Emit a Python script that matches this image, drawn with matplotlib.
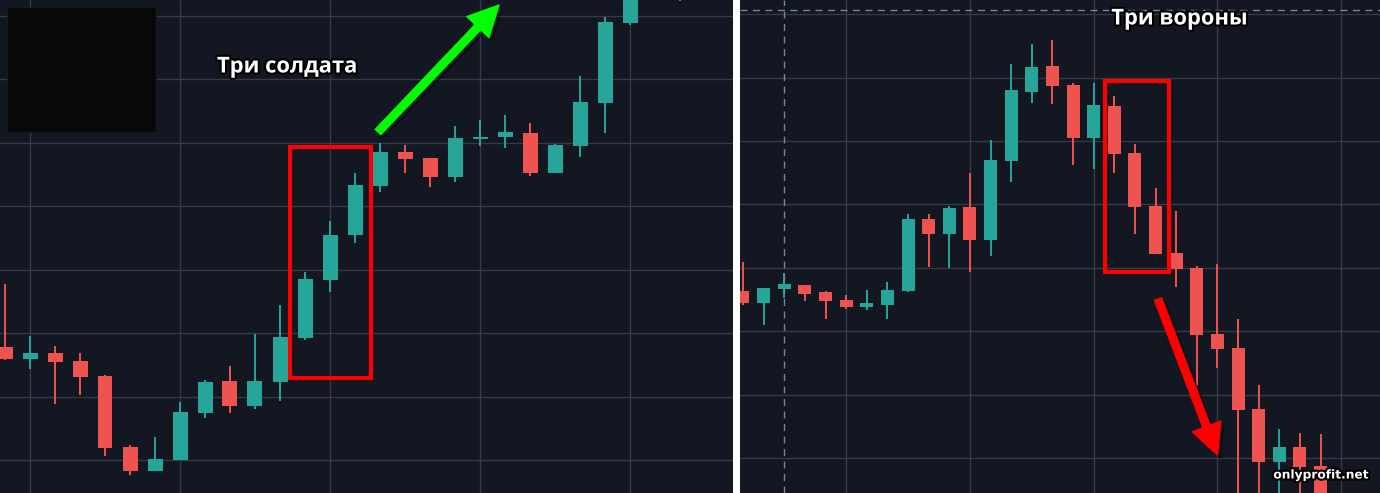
import matplotlib
matplotlib.use('Agg')
import matplotlib.pyplot as plt
import matplotlib.patheffects as pe
from matplotlib.patches import Rectangle, FancyArrowPatch
import numpy as np

# colours (dark trading terminal)
BG = '#131722'
GRID = '#363a45'
UP = '#26a69a'
DOWN = '#ef5350'

# left chart: "three soldiers" (index, open, high, low, close)
left_idx = [0, 1, 2, 3, 4, 5, 6, 7, 8, 9, 10, 11, 12, 13, 14, 15, 16, 17, 18, 19, 20, 21, 22, 23, 24, 25, 27]
left_open = [146, 134, 140, 132, 117, 46, 22, 33, 80, 112, 87, 111, 155, 213, 258, 307, 341, 335, 316, 354, 356, 360, 320, 347, 390, 470, 510]
left_high = [209, 157, 147, 140, 118, 48, 56, 91, 113, 127, 159, 188, 221, 272, 320, 350, 348, 335, 367, 373, 378, 370, 349, 417, 476, 540, 545]
left_low = [133, 124, 89, 98, 37, 18, 22, 33, 75, 80, 84, 92, 153, 201, 250, 301, 320, 306, 311, 347, 345, 317, 320, 336, 360, 468, 492]
left_close = [134, 140, 131, 116, 45, 22, 34, 81, 111, 87, 112, 156, 214, 258, 308, 341, 334, 316, 355, 356, 361, 320, 348, 391, 471, 520, 530]

# right chart: "three crows"
right_open = [202, 190, 204, 208, 201, 193, 186, 188, 202, 274, 259, 286, 253, 332, 401, 427, 408, 355, 387, 340, 287, 240, 225, 159, 145, 84, 31, 46, 27]
right_high = [231, 205, 220, 208, 202, 198, 203, 211, 279, 279, 287, 320, 353, 429, 449, 453, 410, 410, 397, 349, 305, 282, 227, 229, 174, 108, 64, 60, 59]
right_low = [188, 168, 195, 192, 174, 184, 183, 174, 201, 226, 225, 221, 237, 311, 390, 389, 328, 324, 320, 259, 239, 206, 107, 125, -10, -10, -10, -10, -20]
right_close = [190, 205, 209, 199, 192, 186, 190, 203, 274, 259, 285, 253, 333, 403, 426, 407, 355, 388, 339, 286, 239, 224, 158, 144, 83, 31, 46, 26, -10]


def draw_candles(ax, idx, o, h, l, c, width):
    idx = np.asarray(idx, dtype=float)
    o = np.asarray(o, dtype=float)
    c = np.asarray(c, dtype=float)
    colors = [UP if cc >= oo else DOWN for oo, cc in zip(o, c)]
    ax.vlines(idx, l, h, colors=colors, linewidth=1.4, zorder=3)
    bottom = np.minimum(o, c)
    height = np.maximum(np.abs(c - o), 2)
    ax.bar(idx, height, width=width, bottom=bottom, color=colors, linewidth=0, zorder=4)


def style_axes(ax, xgrid, ygrid):
    ax.set_facecolor(BG)
    for x in xgrid:
        ax.axvline(x, color=GRID, linewidth=1.0, zorder=1)
    for y in ygrid:
        ax.axhline(y, color=GRID, linewidth=1.0, zorder=1)
    ax.set_xticks([])
    ax.set_yticks([])
    for s in ax.spines.values():
        s.set_visible(False)


shadow = [pe.withStroke(linewidth=3, foreground='#000000')]

fig = plt.figure(figsize=(13.8, 4.93), dpi=100, facecolor='white')

# ---- left panel
ax1 = fig.add_axes([0, 0, 733 / 1380, 1])
ax1.set_xlim(-0.2, 29.12)
ax1.set_ylim(0, 493)
style_axes(ax1, [1, 7, 13, 19, 25], [33 + 63.45 * k for k in range(8)])
draw_candles(ax1, left_idx, left_open, left_high, left_low, left_close, 0.6)

ax1.add_patch(Rectangle((7 / 733, 1 - 132 / 493), 149 / 733, 125 / 493, transform=ax1.transAxes,
                        facecolor='#080808', edgecolor='#1a1a1e', linewidth=1, zorder=5))
ax1.add_patch(Rectangle((11.4, 115), 3.24, 231, facecolor='none', edgecolor='#ff0000',
                        linewidth=3, zorder=6))
ax1.add_patch(FancyArrowPatch((14.92, 361), (19.76, 488), arrowstyle='simple,head_length=2.2,head_width=2.2,tail_width=0.55',
                              mutation_scale=10, color='#00ff00', shrinkA=0, shrinkB=0, zorder=7,
                              path_effects=[pe.SimpleLineShadow(offset=(2, -2), shadow_color='black', alpha=0.5), pe.Normal()]))
ax1.text(11.3, 426, 'Три солдата', color='white', fontsize=15.8, fontweight='bold', family='Open Sans',
         ha='center', va='center', zorder=8, path_effects=shadow)

# ---- right panel
ax2 = fig.add_axes([740 / 1380, 0, 640 / 1380, 1])
ax2.set_xlim(-0.145, 30.88)
ax2.set_ylim(0, 493)
style_axes(ax2, [5, 11, 17, 23, 29], [35 + 63.4 * k for k in range(8)])
draw_candles(ax2, range(len(right_open)), right_open, right_high, right_low, right_close, 0.63)

ax2.axhline(483, color='#758696', linewidth=1.0, linestyle=(0, (5, 4)), zorder=5)
ax2.axvline(2, color='#758696', linewidth=1.0, linestyle=(0, (5, 4)), zorder=5)

ax2.add_patch(Rectangle((17.55, 221), 3.1, 191, facecolor='none', edgecolor='#ff0000',
                        linewidth=3, zorder=6))
ax2.add_patch(FancyArrowPatch((20.12, 194), (23.0, 38), arrowstyle='simple,head_length=2.2,head_width=2.2,tail_width=0.55',
                              mutation_scale=10, color='#ff0000', shrinkA=0, shrinkB=0, zorder=7,
                              path_effects=[pe.SimpleLineShadow(offset=(2, -2), shadow_color='black', alpha=0.5), pe.Normal()]))
ax2.text(21.18, 474, 'Три вороны', color='white', fontsize=15.8, fontweight='bold', family='Open Sans',
         ha='center', va='center', zorder=8, path_effects=shadow)
ax2.text(581 / 640, 18 / 493, 'onlyprofit.net', color='white', fontsize=8.8, fontweight='bold',
         family='DejaVu Sans', ha='center', va='center', transform=ax2.transAxes, zorder=8,
         path_effects=shadow)

fig.savefig('out.png', dpi=100, facecolor='white')
